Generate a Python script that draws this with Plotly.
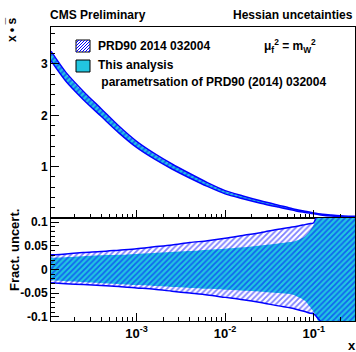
import plotly.graph_objects as go

# ---------------- data ----------------
log_x = [-3.966, -3.8, -3.6, -3.4, -3.2, -3.0, -2.8, -2.6, -2.4, -2.2, -2.0,
         -1.8, -1.6, -1.4, -1.27, -1.2, -1.1, -1.05, -1.0, -0.95, -0.9,
         -0.8, -0.7, -0.6, -0.534]
xs_central = [3.15, 2.75, 2.38, 2.05, 1.72, 1.43, 1.2, 1.0, 0.82, 0.65, 0.5,
              0.4, 0.31, 0.23, 0.18, 0.15, 0.12, 0.105, 0.09, 0.075, 0.062,
              0.045, 0.032, 0.024, 0.02]
prd_hi = [0.031, 0.033, 0.036, 0.038, 0.041, 0.044, 0.048, 0.052, 0.057, 0.061, 0.066,
          0.072, 0.078, 0.085, 0.089, 0.091, 0.095, 0.097, 0.099, 0.13, 0.18,
          0.28, 0.38, 0.5, 0.6]
prd_lo = [-0.028, -0.030, -0.032, -0.034, -0.036, -0.039, -0.042, -0.046, -0.050, -0.054, -0.059,
          -0.064, -0.070, -0.077, -0.081, -0.084, -0.089, -0.092, -0.094, -0.104, -0.115,
          -0.16, -0.25, -0.35, -0.45]
cyan_hi = [0.025, 0.026, 0.028, 0.030, 0.031, 0.033, 0.035, 0.037, 0.039, 0.042, 0.044,
           0.047, 0.051, 0.055, 0.058, 0.061, 0.070, 0.080, 0.095, 0.14, 0.2,
           0.3, 0.4, 0.5, 0.6]
cyan_lo = [-0.023, -0.025, -0.027, -0.029, -0.031, -0.033, -0.035, -0.037, -0.039, -0.041, -0.043,
           -0.045, -0.047, -0.050, -0.052, -0.056, -0.066, -0.077, -0.090, -0.11, -0.14,
           -0.2, -0.3, -0.4, -0.5]

x_tick_vals = [1e-3, 1e-2, 1e-1]
x_tick_text = ["10<sup>-3</sup>", "10<sup>-2</sup>", "10<sup>-1</sup>"]
y1_tick_vals = [1, 2, 3]
y2_tick_vals = [-0.1, -0.05, 0, 0.05, 0.1]
y2_tick_text = ["-0.1", "-0.05", "0", "0.05", "0.1"]

# ---------------- layout helpers ----------------
W, H = 356, 352
L, R, T, B = 51, 1, 27, 31
PW, PH = W - L - R, H - T - B
SPLIT = (H - B - 218) / PH


def px(xp):
    return (xp - L) / PW


def py(yp):
    return (H - B - yp) / PH


CYAN = "#22c6e0"
BLUE = "#0000ff"
FONT = "Liberation Sans"

x = [10 ** v for v in log_x]
top_c_lo = [c * (1 + f) for c, f in zip(xs_central, cyan_lo)]
top_c_hi = [c * (1 + f) for c, f in zip(xs_central, cyan_hi)]
top_p_lo = [c * (1 + f) for c, f in zip(xs_central, prd_lo)]
top_p_hi = [c * (1 + f) for c, f in zip(xs_central, prd_hi)]

hatch = dict(shape="/", fgcolor=BLUE, bgcolor="rgba(0,0,0,0)", size=4, solidity=0.45)

fig = go.Figure()
for xa, ya, clo, chi, plo, phi in [("x", "y", top_c_lo, top_c_hi, top_p_lo, top_p_hi),
                                   ("x2", "y2", cyan_lo, cyan_hi, prd_lo, prd_hi)]:
    fig.add_trace(go.Scatter(x=x, y=clo, mode="lines",
                             line=dict(width=0, color=CYAN, shape="spline", smoothing=0.8),
                             xaxis=xa, yaxis=ya, showlegend=False, hoverinfo="skip"))
    fig.add_trace(go.Scatter(x=x, y=chi, mode="lines",
                             line=dict(width=0, color=CYAN, shape="spline", smoothing=0.8),
                             fill="tonexty", fillcolor=CYAN,
                             xaxis=xa, yaxis=ya, showlegend=False, hoverinfo="skip"))
    fig.add_trace(go.Scatter(x=x, y=plo, mode="lines",
                             line=dict(width=1.5, color=BLUE, shape="spline", smoothing=0.8),
                             xaxis=xa, yaxis=ya, showlegend=False, hoverinfo="skip"))
    fig.add_trace(go.Scatter(x=x, y=phi, mode="lines",
                             line=dict(width=1.5, color=BLUE, shape="spline", smoothing=0.8),
                             fill="tonexty", fillcolor="rgba(0,0,0,0)", fillpattern=hatch,
                             xaxis=xa, yaxis=ya, showlegend=False, hoverinfo="skip"))

tickfont = dict(family=FONT, size=12, color="black", weight="bold")
minor_x = [m * 10 ** e for e in range(-4, 0) for m in range(2, 10)]
common_x = dict(type="log", range=[-3.966, -0.534], showgrid=False, zeroline=False,
                showline=True, linecolor="black", linewidth=1, mirror=True,
                ticks="inside", ticklen=8, tickcolor="black", tickwidth=1,
                tickvals=x_tick_vals,
                minor=dict(tickmode="array", tickvals=minor_x, ticks="inside", ticklen=4,
                           tickcolor="black", showgrid=False))
common_y = dict(showgrid=False, zeroline=False, showline=True, linecolor="black",
                linewidth=1, mirror=True, ticks="inside", ticklen=8, tickcolor="black",
                tickwidth=1, tickfont=tickfont)

fig.update_layout(
    width=W, height=H, margin=dict(l=L, r=R, t=T, b=B),
    paper_bgcolor="white", plot_bgcolor="white", showlegend=False,
    xaxis=dict(common_x, anchor="y", domain=[0, 1], showticklabels=False, matches="x2"),
    yaxis=dict(common_y, anchor="x", domain=[SPLIT, 1], range=[0, 3.72],
               tickvals=y1_tick_vals,
               minor=dict(dtick=0.2, ticks="inside", ticklen=4, tickcolor="black", showgrid=False)),
    xaxis2=dict(common_x, anchor="y2", domain=[0, 1], tickvals=x_tick_vals,
                ticktext=x_tick_text, tickfont=dict(tickfont, size=13)),
    yaxis2=dict(common_y, anchor="x2", domain=[0, SPLIT], range=[-0.109, 0.109],
                tickvals=y2_tick_vals, ticktext=y2_tick_text,
                minor=dict(dtick=0.01, ticks="inside", ticklen=4, tickcolor="black", showgrid=False)),
)


def ann(text, xp, yp, size=12, xanchor="left", angle=0, yanchor="middle"):
    fig.add_annotation(text=text, x=px(xp), y=py(yp), xref="paper", yref="paper",
                       showarrow=False, xanchor=xanchor, yanchor=yanchor, textangle=angle,
                       font=dict(family=FONT, size=size, color="black", weight="bold"))


ann("CMS Preliminary", 48, 15)
ann("Hessian uncetainties", 355, 15, xanchor="right")
ann("PRD90 2014 032004", 96, 46)
ann("μ<sub>f</sub><sup>2</sup> = m<sub>W</sub><sup>2</sup>", 262, 46)
ann("This analysis", 96, 65)
ann(" parametrsation of PRD90 (2014) 032004", 96, 82)
ann("x", 352, 345, size=13, xanchor="center")
ann("x • s\u0305", 12, 30, size=12, xanchor="center", angle=-90)
ann("Fract. uncert.", 14, 250, size=13, xanchor="center", angle=-90)

# legend icons
shapes = []
ix0, ix1, iy0, iy1 = 76, 90, 40, 52
shapes.append(dict(type="rect", xref="paper", yref="paper", x0=px(ix0), x1=px(ix1),
                   y0=py(iy1), y1=py(iy0), line=dict(color="black", width=1), fillcolor="white"))
step = 3
k = ix0 - (iy1 - iy0)
while k < ix1:
    xa_, ya_ = k, iy1
    xb_, yb_ = k + (iy1 - iy0), iy0
    if xa_ < ix0:
        ya_ -= (ix0 - xa_)
        xa_ = ix0
    if xb_ > ix1:
        yb_ += (xb_ - ix1)
        xb_ = ix1
    if xb_ > xa_:
        shapes.append(dict(type="line", xref="paper", yref="paper", x0=px(xa_), y0=py(ya_),
                           x1=px(xb_), y1=py(yb_), line=dict(color=BLUE, width=1)))
    k += step
shapes.append(dict(type="rect", xref="paper", yref="paper", x0=px(76), x1=px(90),
                   y0=py(72), y1=py(60), line=dict(color="black", width=1), fillcolor=CYAN))
fig.update_layout(shapes=shapes)

fig.write_html("out.html", config={"displayModeBar": False},
               post_script="document.body.style.margin='0';")
